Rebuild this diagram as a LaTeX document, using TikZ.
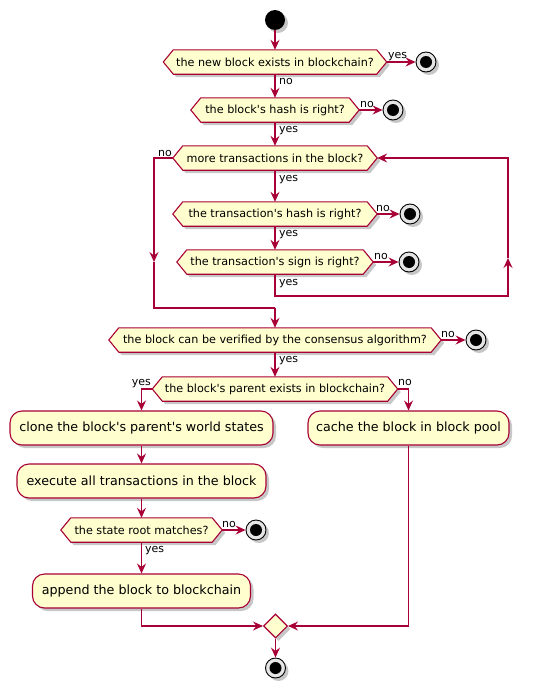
\documentclass[tikz,border=0pt]{standalone}
\usepackage{fontspec}
\setmainfont[Ligatures=TeXOff]{DejaVu Sans}
\usetikzlibrary{arrows.meta,shapes.geometric,shadows}
\definecolor{pred}{HTML}{A80036}
\definecolor{pfill}{HTML}{FEFECE}
\pgfdeclarelayer{background}
\pgfsetlayers{background,main}
\tikzset{
  myshadow/.style={drop shadow={shadow xshift=3pt,shadow yshift=-3pt,fill=black,opacity=0.22}},
  hexnode/.style={rectangle,inner sep=0pt,minimum height=24pt,font=\fontsize{11.2}{13}\selectfont},
  hexbox/.style={draw=pred,fill=pfill,line width=1.1pt,line join=miter,myshadow},
  actbox/.style={rectangle,rounded corners=12pt,draw=pred,fill=pfill,line width=1.1pt,
    minimum height=34pt,inner sep=0pt,font=\fontsize{12.7}{15}\selectfont,myshadow},
  stopnode/.style={circle,draw=black,line width=0.9pt,fill=black!10,minimum size=20pt,inner sep=0pt,myshadow,
    path picture={\fill[black] (path picture bounding box.center) circle (6pt);}},
  startnode/.style={circle,fill=black,minimum size=20pt,inner sep=0pt,myshadow},
  mergenode/.style={diamond,draw=pred,fill=pfill,line width=1.1pt,minimum width=24pt,minimum height=24pt,inner sep=0pt,myshadow},
  line/.style={draw=pred,line width=1.1pt},
  flow/.style={line,-{Stealth[length=10pt,width=9pt,inset=3.5pt]}},
  lab/.style={inner sep=0pt,font=\fontsize{11}{13}\selectfont},
}
\begin{document}
\begin{tikzpicture}[x=1pt,y=-1pt]
\useasboundingbox (0,0) rectangle (533,688);
% nodes
\node[startnode] (s) at (275,20) {};
\node[hexnode,minimum width=223pt] (d1) at (275,62) {the new block exists in blockchain?};
\node[stopnode] (e1) at (426,62) {};
\node[hexnode,minimum width=168pt] (d2) at (275,110) {the block's hash is right?};
\node[stopnode] (e2) at (393,110) {};
\node[hexnode,minimum width=204pt] (d3) at (275,158) {more transactions in the block?};
\node[hexnode,minimum width=204pt] (d4) at (275,214) {the transaction's hash is right?};
\node[stopnode] (e3) at (410,214) {};
\node[hexnode,minimum width=196pt] (d5) at (275,262) {the transaction's sign is right?};
\node[stopnode] (e4) at (409,262) {};
\node[hexnode,minimum width=332pt] (d6) at (275,340) {the block can be verified by the consensus algorithm?};
\node[stopnode] (e5) at (476,340) {};
\node[hexnode,minimum width=245pt] (d7) at (275,389) {the block's parent exists in blockchain?};
\node[actbox,minimum width=263pt] (a1) at (141.5,428) {clone the block's parent's world states};
\node[actbox,minimum width=201pt] (a2) at (408.5,428) {cache the block in block pool};
\node[actbox,minimum width=249pt] (a3) at (141.5,481) {execute all transactions in the block};
\node[hexnode,minimum width=161pt] (d8) at (141.5,530) {the state root matches?};
\node[stopnode] (e6) at (256,530) {};
\node[actbox,minimum width=218pt] (a4) at (141.5,591) {append the block to blockchain};
\node[mergenode] (m) at (275.5,626) {};
\node[stopnode] (e7) at (275.5,668) {};
% hexagons
\begin{pgfonlayer}{background}
\foreach \n in {d1,d2,d3,d4,d5,d6,d7,d8}{
  \draw[hexbox] (\n.west) -- ([xshift=10pt]\n.north west) -- ([xshift=-10pt]\n.north east)
    -- (\n.east) -- ([xshift=-10pt]\n.south east) -- ([xshift=10pt]\n.south west) -- cycle;
}
\end{pgfonlayer}
% helper coordinates
\coordinate (la1) at (154,158);
\coordinate (la2) at (154,262);
\coordinate (la3) at (154,308);
\coordinate (j) at (275,308);
\coordinate (lb1) at (275,296);
\coordinate (lb2) at (508,296);
\coordinate (lb3) at (508,258);
\coordinate (lb4) at (508,158);
% connectors
\draw[flow] (s.south) -- (d1.north);
\draw[flow] (d1.east) -- (e1.west);
\draw[flow] (d1.south) -- (d2.north);
\draw[flow] (d2.east) -- (e2.west);
\draw[flow] (d2.south) -- (d3.north);
\draw[flow] (d3.west) -- (la1) -- (la2);
\draw[line] (la2) -- (la3) -- (j);
\draw[flow] (d3.south) -- (d4.north);
\draw[flow] (d4.east) -- (e3.west);
\draw[flow] (d4.south) -- (d5.north);
\draw[flow] (d5.east) -- (e4.west);
\draw[flow] (d5.south) -- (lb1) -- (lb2) -- (lb3);
\draw[flow] (lb3) -- (lb4) -- (d3.east);
\draw[flow] (j) -- (d6.north);
\draw[flow] (d6.east) -- (e5.west);
\draw[flow] (d6.south) -- (d7.north);
\draw[flow] (d7.west) -| (a1.north);
\draw[flow] (d7.east) -| (a2.north);
\draw[flow] (a1.south) -- (a3.north);
\draw[flow] (a3.south) -- (d8.north);
\draw[flow] (d8.east) -- (e6.west);
\draw[flow] (d8.south) -- (a4.north);
\draw[flow] (a4.south) |- (m.west);
\draw[flow] (a2.south) |- (m.east);
\draw[flow] (m.south) -- (e7.north);
% labels
\node[lab,anchor=base west] (l1) at (388,58) {yes};
\node[lab,anchor=base west] (l2) at (279,84) {no};
\node[lab,anchor=base west] (l3) at (360,107) {no};
\node[lab,anchor=base west] (l4) at (279,132) {yes};
\node[lab,anchor=base east] (l5) at (172,156) {no};
\node[lab,anchor=base west] (l6) at (279,181) {yes};
\node[lab,anchor=base west] (l7) at (376,211) {no};
\node[lab,anchor=base west] (l8) at (279,236) {yes};
\node[lab,anchor=base west] (l9) at (374,259) {no};
\node[lab,anchor=base west] (l10) at (279,285) {yes};
\node[lab,anchor=base west] (l11) at (441,337) {no};
\node[lab,anchor=base west] (l12) at (279,362) {yes};
\node[lab,anchor=base east] (l13) at (151,385) {yes};
\node[lab,anchor=base west] (l14) at (398,385) {no};
\node[lab,anchor=base west] (l15) at (222,527) {no};
\node[lab,anchor=base west] (l16) at (145,552) {yes};
\end{tikzpicture}
\end{document}
